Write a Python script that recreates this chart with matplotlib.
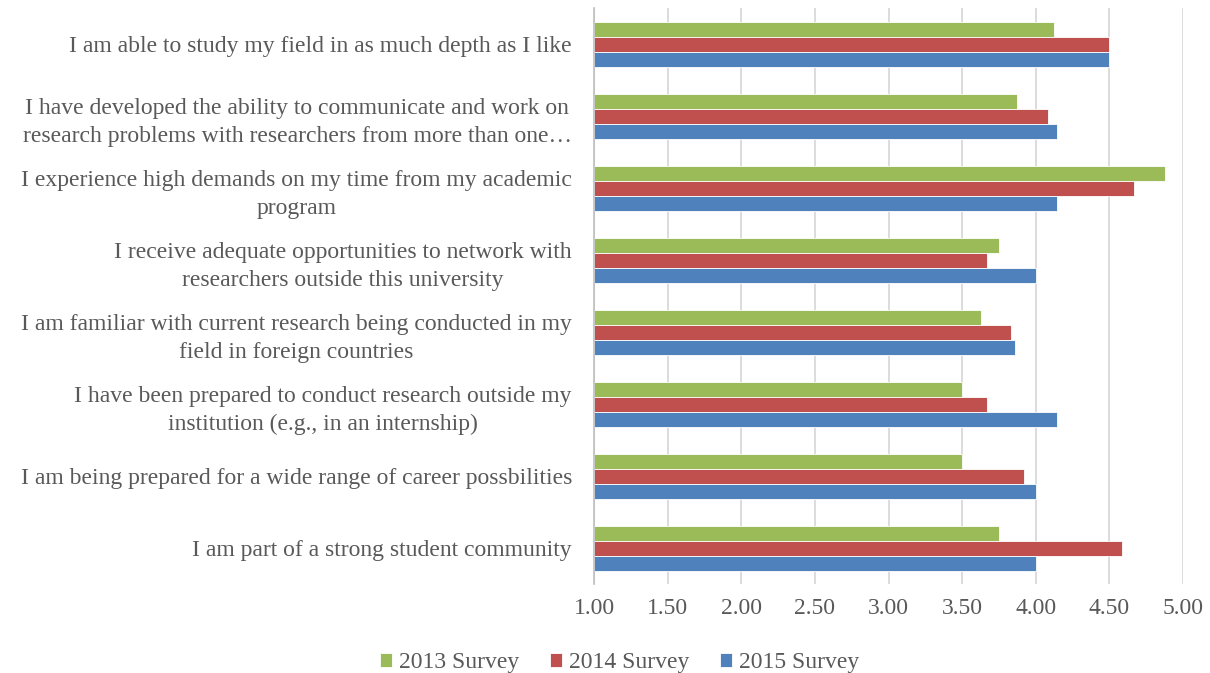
import matplotlib.pyplot as plt
import numpy as np

# Ratings per survey year (1-5 scale), categories listed top to bottom
categorias = [
    "I am able to study my field in as much depth as I like",
    "I have developed the ability to communicate and work on\nresearch problems with researchers from more than one\u2026",
    "I experience high demands on my time from my academic\nprogram",
    "I receive adequate opportunities to network with\nresearchers outside this university",
    "I am familiar with current research being conducted in my\nfield in foreign countries",
    "I have been prepared to conduct research outside my\ninstitution (e.g., in an internship)",
    "I am being prepared for a wide range of career possbilities",
    "I am part of a strong student community",
]
encuesta_2013 = [4.125, 3.875, 4.875, 3.75, 3.625, 3.50, 3.50, 3.75]
encuesta_2014 = [4.50, 4.083, 4.667, 3.667, 3.833, 3.667, 3.917, 4.583]
encuesta_2015 = [4.50, 4.143, 4.143, 4.00, 3.857, 4.143, 4.00, 4.00]
series = ["2013 Survey", "2014 Survey", "2015 Survey"]
colores = ["#9BBB59", "#C0504D", "#4F81BD"]
ticks_x = [1.0, 1.5, 2.0, 2.5, 3.0, 3.5, 4.0, 4.5, 5.0]

plt.rcParams["font.family"] = ["Liberation Serif", "DejaVu Serif"]
gris = "#595959"

fig = plt.figure(figsize=(12.1, 6.73), dpi=100)
ax = fig.add_axes([0.491, 0.132, 0.4867, 0.856])

y = np.arange(len(categorias))
alto = 0.208
for i, (valores, nombre, color) in enumerate(zip([encuesta_2013, encuesta_2014, encuesta_2015], series, colores)):
    desplazamiento = (i - 1) * alto
    ax.barh(y + desplazamiento, np.array(valores) - 1.0, left=1.0, height=alto,
            color=color, edgecolor="white", linewidth=0.6, label=nombre, zorder=3)

ax.set_xlim(1.0, 5.0)
ax.set_ylim(len(categorias) - 0.5, -0.5)
ax.set_xticks(ticks_x)
ax.set_xticklabels([f"{t:.2f}" for t in ticks_x])
ax.set_yticks(y)
ax.set_yticklabels(categorias, multialignment="center", linespacing=1.45)
ax.tick_params(axis="x", length=0, pad=10, labelsize=17, labelcolor=gris)
ax.tick_params(axis="y", length=0, pad=16, labelsize=17, labelcolor=gris)
ax.grid(axis="x", color="#D9D9D9", linewidth=1.3, zorder=0)

for lado in ["top", "right", "bottom"]:
    ax.spines[lado].set_visible(False)
ax.spines["left"].set_color("#BFBFBF")
ax.spines["left"].set_linewidth(1.2)
ax.spines["left"].set_zorder(4)

fig.legend(loc="center", bbox_to_anchor=(0.512, 0.015), ncol=3, frameon=False,
           fontsize=17, labelcolor=gris, handlelength=0.5, handleheight=0.5,
           handletextpad=0.3, columnspacing=1.3)

fig.savefig("out.png", dpi=100)
